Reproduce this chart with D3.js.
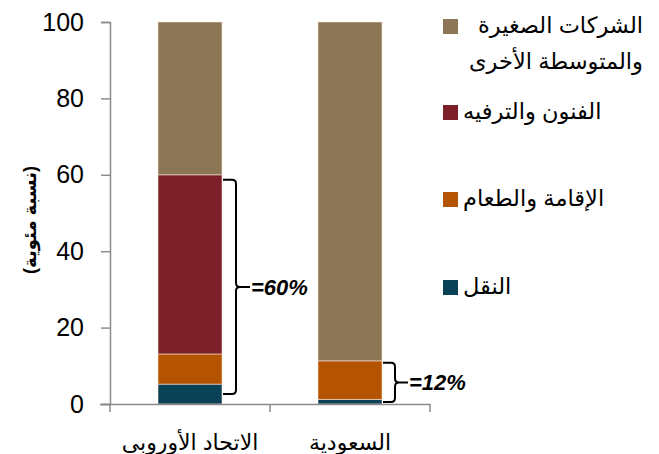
<!DOCTYPE html>
<html><head><meta charset="utf-8">
<script src="https://cdn.jsdelivr.net/npm/d3@7"></script>
<style>
html,body{margin:0;padding:0;background:#fff;}
text{font-family:Arial,"Liberation Sans","DejaVu Sans",sans-serif;}
</style></head>
<body><svg id="c" width="659" height="454"></svg>
<script>
// Data
const categories = ["الاتحاد الأوروبى", "السعودية"];
const seriesNames = ["النقل", "الإقامة والطعام", "الفنون والترفيه", "الشركات الصغيرة والمتوسطة الأخرى"];
const transport = [5.2, 1.2];
const accommodation = [7.9, 10.1];
const arts = [46.9, 0];
const otherSME = [40.0, 88.7];
const yTicks = [0, 20, 40, 60, 80, 100];
const braceLabels = ["=60%", "=12%"];
const braceTotals = [60, 11.3];
const yTitle = "(نسبة مئوية)";
const legendLines = [["الشركات الصغيرة", "والمتوسطة الأخرى"], ["الفنون والترفيه"], ["الإقامة والطعام"], ["النقل"]];

const colors = ["#0b4157", "#b55400", "#7b2028", "#8b7756"];

const svg = d3.select("#c");
const x = d3.scaleBand().domain(categories).range([110, 430]).padding(0);
const y = d3.scaleLinear().domain([0, 100]).range([404, 22]);

// stacked data
const rows = categories.map((c, i) => ({cat: c, s0: transport[i], s1: accommodation[i], s2: arts[i], s3: otherSME[i]}));
const stack = d3.stack().keys(["s0", "s1", "s2", "s3"])(rows);

const barW = x.bandwidth() * 0.4;
stack.forEach((layer, li) => {
  svg.append("g").selectAll("rect").data(layer).join("rect")
    .attr("x", d => x(d.data.cat) + (x.bandwidth() - barW) / 2)
    .attr("y", d => y(d[1]))
    .attr("width", barW)
    .attr("height", d => Math.max(0, y(d[0]) - y(d[1])))
    .attr("fill", colors[li])
    .attr("stroke", "rgba(255,235,220,0.55)")
    .attr("stroke-width", 1);
});

// Y axis
const yAxis = svg.append("g").attr("transform", "translate(110,0)")
  .call(d3.axisLeft(y).tickValues(yTicks).tickSize(9).tickPadding(17).tickFormat(d3.format("d")));
yAxis.select(".domain").attr("stroke", "#8c8c8c").attr("stroke-width", 1.5);
yAxis.selectAll(".tick line").attr("stroke", "#8c8c8c").attr("stroke-width", 1.5);
yAxis.selectAll(".tick text").attr("font-size", 25).attr("fill", "#000")
  .attr("font-family", "Arial, 'Liberation Sans', sans-serif");

// X axis
const xAxis = svg.append("g").attr("transform", "translate(0,404)")
  .call(d3.axisBottom(x).tickSize(0).tickPadding(30));
xAxis.select(".domain").attr("stroke", "#8c8c8c").attr("stroke-width", 1.5).attr("d", "M100,0.5H430");
xAxis.selectAll(".tick text").attr("font-size", 22).attr("fill", "#000");
// category boundary ticks
const bounds = [110, 270, 430];
svg.append("g").selectAll("line").data(bounds).join("line")
  .attr("x1", d => d).attr("x2", d => d).attr("y1", 404).attr("y2", 412)
  .attr("stroke", "#8c8c8c").attr("stroke-width", 1.5);

// Y title
svg.append("text").attr("transform", "translate(36,220) rotate(-90)")
  .attr("text-anchor", "middle").attr("font-size", 18).attr("font-weight", "bold")
  .text(yTitle);

// Braces
function brace(x0, xv, xt, yTop, yBot) {
  const ymid = (yTop + yBot) / 2, r = 4;
  return `M${x0},${yTop} H${xv - r} Q${xv},${yTop} ${xv},${yTop + r} V${ymid - r} Q${xv},${ymid} ${xv + r},${ymid} H${xt}` +
         ` M${xv + r},${ymid} Q${xv},${ymid} ${xv},${ymid + r} V${yBot - r} Q${xv},${yBot} ${xv - r},${yBot} H${x0}`;
}
const braceSpecs = [
  {i: 0, top: y(braceTotals[0]) + 5, bot: y(0) - 10, dv: 13, dt: 27},
  {i: 1, top: y(braceTotals[1]) + 2, bot: y(0) - 2, dv: 12, dt: 25}
];
braceSpecs.forEach(b => {
  const bx = x(categories[b.i]) + (x.bandwidth() + barW) / 2 + 1;
  const xv = bx + b.dv, xt = bx + b.dt;
  svg.append("path").attr("d", brace(bx, xv, xt, b.top, b.bot)).attr("fill", "none")
    .attr("stroke", "#000").attr("stroke-width", 2);
  const ymid = (b.top + b.bot) / 2;
  svg.append("text").attr("x", xt + 1).attr("y", ymid).attr("dy", "0.36em")
    .attr("font-size", 22).attr("font-weight", "bold").attr("font-style", "italic")
    .attr("font-family", "Arial, 'Liberation Sans', sans-serif")
    .text(braceLabels[b.i]);
});

// Legend
const legSq = [19, 105, 192, 280];
const legColors = [colors[3], colors[2], colors[1], colors[0]];
legendLines.forEach((lines, i) => {
  svg.append("rect").attr("x", 443).attr("y", legSq[i]).attr("width", 15).attr("height", 15)
    .attr("fill", legColors[i]);
  lines.forEach((ln, j) => {
    const t = svg.append("text").attr("font-size", 22.5).attr("fill", "#000")
      .attr("y", legSq[i] + 14 + j * 36);
    if (i === 0) t.attr("x", 643).attr("text-anchor", "end");
    else t.attr("x", 463).attr("text-anchor", "start");
    t.text(ln);
  });
});
</script></body></html>
